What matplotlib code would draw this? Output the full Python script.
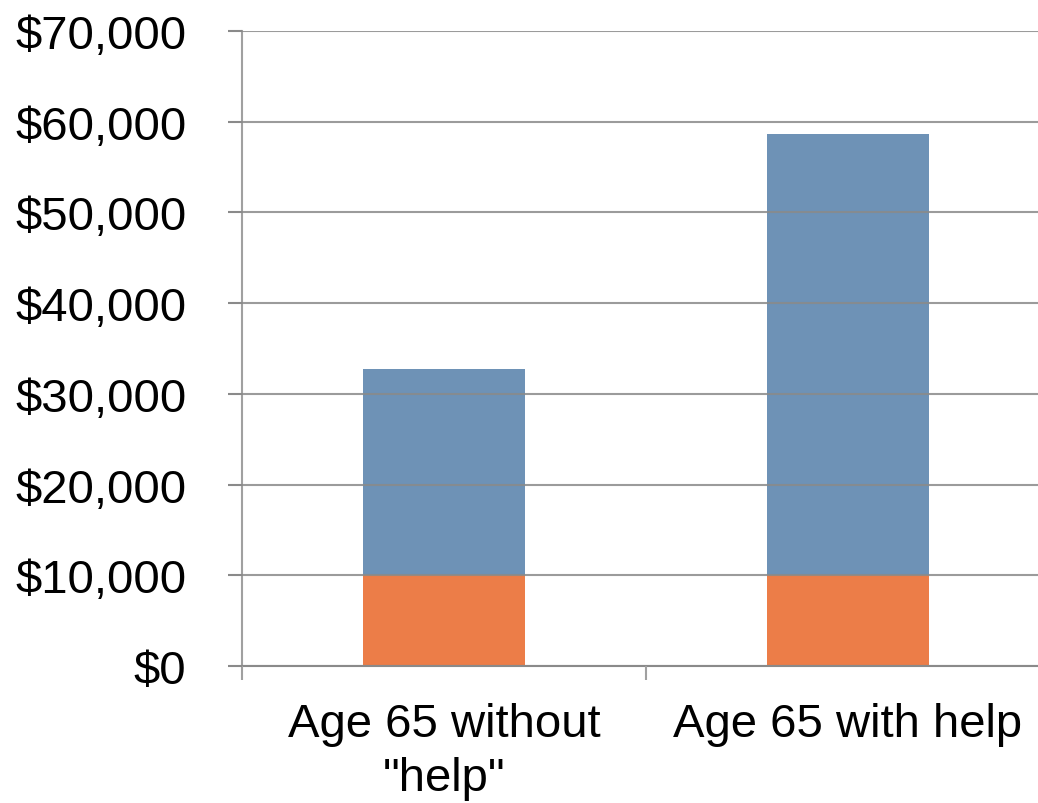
import matplotlib.pyplot as plt
from matplotlib.ticker import FuncFormatter

categories = ['Age 65 without\n"help"', 'Age 65 with help']
base_values = [10000, 10000]
top_values = [22700, 48700]
y_ticks = [0, 10000, 20000, 30000, 40000, 50000, 60000, 70000]

blue = '#6E92B6'
orange = '#EC7D48'
grid_color = '#8A8A8A'

plt.rcParams['font.family'] = ['Liberation Sans', 'DejaVu Sans']

fig = plt.figure(figsize=(10.38, 8.04), dpi=100)
W, H = 1038, 804
left, right, top, bottom = 242, 1050, 32, 667
ax = fig.add_axes([left / W, 1 - bottom / H, (right - left) / W, (bottom - top) / H])

x = list(range(len(categories)))
ax.bar(x, base_values, width=0.4, color=orange, zorder=1)
ax.bar(x, top_values, bottom=base_values, width=0.4, color=blue, zorder=1)

ax.set_xlim(-0.5, 1.5)
ax.set_ylim(0, 70000)
ax.set_yticks(y_ticks)
ax.yaxis.set_major_formatter(FuncFormatter(lambda v, p: f"${int(v):,}"))
ax.set_xticks(x)
ax.set_xticklabels(categories, fontsize=34, linespacing=1.28)
ax.set_xticks([-0.5, 0.5, 1.5], minor=True)
ax.tick_params(axis='x', which='major', length=0, pad=26)
ax.tick_params(axis='x', which='minor', length=10, width=1.5, color='#A0A0A0')
ax.tick_params(axis='y', length=10, width=1.5, color=grid_color, labelsize=34, pad=30)

ax.yaxis.grid(True, color=grid_color, linewidth=1.5, alpha=0.85, zorder=3)
ax.set_axisbelow(False)
for s in ['top', 'right']:
    ax.spines[s].set_visible(False)
ax.spines['left'].set_color('#A0A0A0')
ax.spines['left'].set_linewidth(1.5)
ax.spines['bottom'].set_color(grid_color)
ax.spines['bottom'].set_linewidth(1.5)

fig.savefig('out.png', dpi=100)
